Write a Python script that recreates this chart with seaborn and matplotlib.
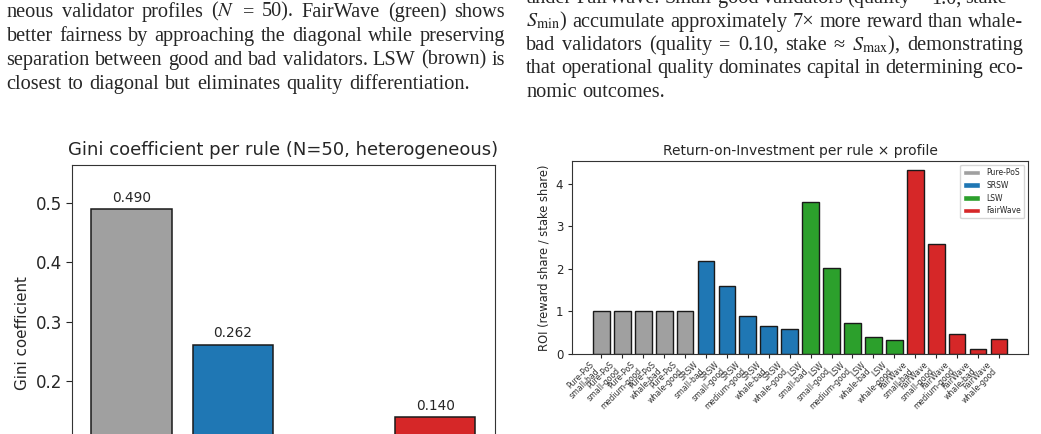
import matplotlib
matplotlib.use("Agg")
import matplotlib.pyplot as plt
from matplotlib.patches import Patch
from matplotlib.transforms import IdentityTransform
import seaborn as sns
import pandas as pd

# ---------------- data ----------------
rules = ["Pure-PoS", "SRSW", "LSW", "FairWave"]
rule_colors = ["#a0a0a0", "#1f77b4", "#2ca02c", "#d62728"]
gini = [0.490, 0.262, 0.070, 0.140]

profiles = ["small-bad", "small-good", "medium-good", "whale-bad", "whale-good"]
roi_purepos = [1.00, 1.00, 1.00, 1.00, 1.00]
roi_srsw = [2.19, 1.60, 0.90, 0.65, 0.58]
roi_lsw = [3.57, 2.03, 0.72, 0.40, 0.32]
roi_fairwave = [4.32, 2.59, 0.47, 0.12, 0.36]

left_lines = [
    ["neous", "validator", "profiles", "($N$", "=", "50).", "FairWave", "(green)", "shows"],
    ["better", "fairness", "by", "approaching", "the", "diagonal", "while", "preserving"],
    ["separation", "between", "good", "and", "bad", "validators.", "LSW", "(brown)", "is"],
    ["closest", "to", "diagonal", "but", "eliminates", "quality", "differentiation."],
]
right_lines = [
    ["under", "FairWave.", "Small-good", "validators", "(quality", "=", "1.0,", "stake", "="],
    ["$S_{\\min}$)", "accumulate", "approximately", "7\u00d7", "more", "reward", "than", "whale-"],
    ["bad", "validators", "(quality", "=", "0.10,", "stake", "\u2248", "$S_{\\max}$),", "demonstrating"],
    ["that", "operational", "quality", "dominates", "capital", "in", "determining", "eco-"],
    ["nomic", "outcomes."],
]

# ---------------- figure ----------------
sns.set_style("white")
plt.rcParams["font.family"] = ["DejaVu Sans"]
plt.rcParams["mathtext.fontset"] = "stix"

W, H = 1041, 434
fig = plt.figure(figsize=(W / 100, H / 100), dpi=100)
renderer = fig.canvas.get_renderer()


def px_axes(x0, x1, ytop, ybot):
    return fig.add_axes([x0 / W, (H - ybot) / H, (x1 - x0) / W, (ybot - ytop) / H])


def draw_line(words, x0, x1, baseline, justify=True, fs=14.6):
    ts = []
    widths = []
    for w in words:
        t = fig.text(0, 0, w, transform=IdentityTransform(), fontsize=fs,
                     family="Liberation Serif", va="baseline", ha="left")
        ts.append(t)
        widths.append(t.get_window_extent(renderer).width)
    space = fs * 100 / 72 * 0.30
    if justify and len(words) > 1:
        gap = (x1 - x0 - sum(widths)) / (len(words) - 1)
    else:
        gap = space
    x = x0
    for t, wd in zip(ts, widths):
        t.set_position((x, H - baseline))
        x += wd + gap


# left column paragraph
lb = [16.7, 40.8, 64.9, 89.0]
for i, words in enumerate(left_lines):
    draw_line(words, 6.5, 505, lb[i], justify=(i < len(left_lines) - 1))

# right column paragraph
rb = [3.4, 26.7, 50.0, 73.3, 96.7]
for i, words in enumerate(right_lines):
    draw_line(words, 526, 1023, rb[i], justify=(i < len(right_lines) - 1))

# ---------------- left chart: Gini ----------------
ax1 = px_axes(72.3, 494.7, 165, 500.5)
df_g = pd.DataFrame({"rule": rules, "gini": gini})
sns.barplot(data=df_g, x="rule", y="gini", hue="rule", palette=rule_colors,
            edgecolor="#1a1a1a", linewidth=1.1, saturation=1, legend=False, ax=ax1)
for c in ax1.containers:
    ax1.bar_label(c, fmt="%.3f", padding=3, fontsize=9.8)
ax1.set_xlim(-0.59, 3.59)
ax1.set_ylim(0, max(gini) * 1.15)
ax1.set_yticks([0.0, 0.1, 0.2, 0.3, 0.4, 0.5])
ax1.tick_params(axis="y", labelsize=12, left=True, length=4)
ax1.tick_params(axis="x", labelsize=10)
ax1.set_xlabel("")
ax1.set_ylabel("Gini coefficient", fontsize=10.9)
ax1.set_title("Gini coefficient per rule (N=50, heterogeneous)", fontsize=13, pad=7)
for s in ax1.spines.values():
    s.set_color("#333333")

# ---------------- right chart: ROI ----------------
ax2 = px_axes(572.3, 1028, 161, 354)
roi_all = [roi_purepos, roi_srsw, roi_lsw, roi_fairwave]
rows = []
for r, vals in zip(rules, roi_all):
    for p, v in zip(profiles, vals):
        rows.append({"label": f"{r}\n{p}", "rule": r, "roi": v})
df_r = pd.DataFrame(rows)
sns.barplot(data=df_r, x="label", y="roi", hue="rule", palette=rule_colors,
            dodge=False, edgecolor="#1a1a1a", linewidth=1.0, saturation=1,
            legend=False, ax=ax2)
n = len(df_r)
ax2.set_xlim(-1.39, n - 1 + 1.39)
ax2.set_ylim(0, df_r["roi"].max() * 1.05)
ax2.set_xticks(range(n))
ax2.set_xticklabels(df_r["label"], rotation=45, ha="right", fontsize=5.6,
                    linespacing=0.95, color="#333333")
ax2.tick_params(axis="x", bottom=True, length=3, pad=1.5)
ax2.tick_params(axis="y", labelsize=8.5, left=True, length=3)
ax2.set_xlabel("")
ax2.set_ylabel("ROI (reward share / stake share)", fontsize=8.3)
ax2.set_title("Return-on-Investment per rule \u00d7 profile", fontsize=10, pad=4)
handles = [Patch(facecolor=c, label=r) for r, c in zip(rules, rule_colors)]
ax2.legend(handles=handles, loc="upper right", fontsize=5.5, frameon=True,
           handlelength=2.2)
for s in ax2.spines.values():
    s.set_color("#333333")

fig.savefig("out.png", dpi=100)
